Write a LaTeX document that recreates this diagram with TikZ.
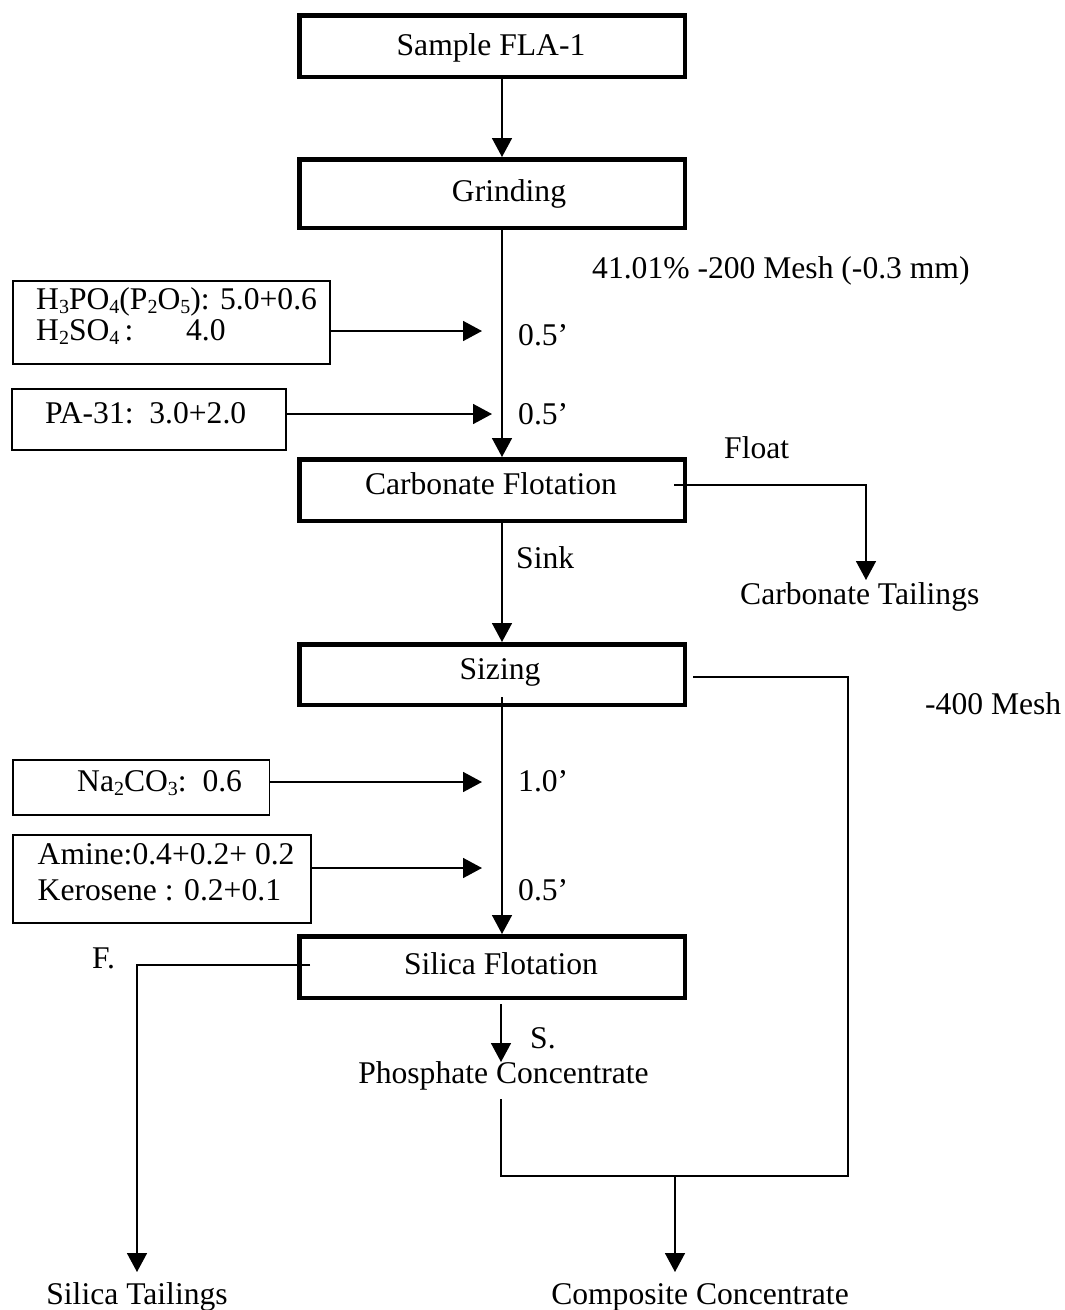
\documentclass[tikz,border=0pt]{standalone}
\usepackage{fontspec}
\setmainfont{Liberation Serif}
\usetikzlibrary{arrows.meta}
% chemical-formula index, slightly lowered
\newcommand\chemsub[1]{\raisebox{-4pt}{\fontsize{20}{20}\selectfont#1}}
\begin{document}
\begin{tikzpicture}[x=1pt,y=-1pt,
  font=\fontsize{31.6}{31}\selectfont,
  stage/.style={draw, line width=4.5pt, inner sep=0pt,
    minimum width=385.5pt, minimum height=61.5pt},
  reagent/.style={draw, line width=1.5pt, inner sep=0pt, anchor=north west},
  txt/.style={inner sep=0pt, text height=22pt, text depth=7pt, yshift=-3.5pt},
  ltxt/.style={txt, anchor=west},
  flow/.style={line width=1.6pt, -{Triangle[width=20pt,length=19pt]}},
  link/.style={line width=1.6pt}]

% page
\fill[white] (0,0) rectangle (1065,1310);
\useasboundingbox (0,0) rectangle (1065,1310);

% main feed line
\coordinate (axis) at (502,0);

% process stages
\node[stage] (sample) at (492,46) {};
\node[stage, minimum height=68.5pt] (grind) at (492,193.5) {};
\node[stage] (carb) at (492,490) {};
\node[stage, minimum height=60.5pt] (size) at (492,674.5) {};
\node[stage] (silica) at (492,967) {};

\node[txt] (sampletxt) at (491,44) {Sample FLA-1};
\node[txt] (grindtxt) at (509,190) {Grinding};
\node[txt] (carbtxt) at (491,483) {Carbonate Flotation};
\node[txt] (sizetxt) at (500,668) {Sizing};
\node[txt] (silicatxt) at (501,963) {Silica Flotation};

% reagent boxes
\node[reagent, minimum width=317pt, minimum height=83pt] (r1) at (12,280) {};
\node[reagent, minimum width=274pt, minimum height=61pt] (r2) at (11,388) {};
\node[reagent, minimum width=256.5pt, minimum height=55pt] (r3) at (12,759) {};
\node[reagent, minimum width=298pt, minimum height=88pt] (r4) at (12,834) {};

\node[ltxt] (r1a) at (36,298) {H\chemsub{3}PO\chemsub{4}(P\chemsub{2}O\chemsub{5}): 5.0+0.6};
\node[ltxt] (r1b) at (36,329) {\makebox[150pt][l]{H\chemsub{2}SO\chemsub{4}\,:}4.0};
\node[ltxt] (r2a) at (45,412) {PA-31:\ \ 3.0+2.0};
\node[ltxt] (r3a) at (77,780) {Na\chemsub{2}CO\chemsub{3}:\ \ 0.6};
\node[ltxt] (r4a) at (37.5,853) {Amine:0.4+0.2+ 0.2};
\node[ltxt] (r4b) at (37.5,889) {Kerosene : 0.2+0.1};

% conditioning times and stream labels
\node[ltxt] (mesh) at (592,267) {41.01\% -200 Mesh (-0.3 mm)};
\node[ltxt] (t1) at (518,334) {0.5’};
\node[ltxt] (t2) at (518,413) {0.5’};
\node[ltxt] (float) at (724,447) {Float};
\node[ltxt] (sink) at (516,557) {Sink};
\node[ltxt] (ctail) at (740,593) {Carbonate Tailings};
\node[ltxt] (fines) at (925,703) {-400 Mesh};
\node[ltxt] (t3) at (518,780) {1.0’};
\node[ltxt] (t4) at (518,889) {0.5’};
\node[ltxt] (flab) at (92,957) {F.};
\node[ltxt] (slab) at (530,1037) {S.};
\node[txt] (pconc) at (503.5,1072) {Phosphate Concentrate};
\node[txt] (stail) at (137,1293) {Silica Tailings};
\node[txt] (cconc) at (700,1293) {Composite Concentrate};

% connector ends
\coordinate (in1) at (482,331);
\coordinate (in2) at (492,414);
\coordinate (in3) at (482,782);
\coordinate (in4) at (482,868);
\coordinate (floatout) at (674,485);
\coordinate (ctailtop) at (866,580);
\coordinate (sizeout) at (502,697);
\coordinate (finesout) at (693,677);
\coordinate (joinR) at (848,1176);
\coordinate (joinM) at (675,1176);
\coordinate (pconcout) at (501,1099);
\coordinate (cconctop) at (675,1272);
\coordinate (fout) at (310,965);
\coordinate (stailtop) at (137,1272);
\coordinate (sout) at (501,1004);
\coordinate (pconctop) at (501,1062);

% flow connectors
\draw[flow] (axis |- sample.south) -- (axis |- grind.north);
\draw[flow] (axis |- grind.south) -- (axis |- carb.north);
\draw[flow] (r1.east |- in1) -- (in1);
\draw[flow] (r2.east |- in2) -- (in2);
\draw[flow] (floatout) -| (ctailtop);
\draw[flow] (axis |- carb.south) -- (axis |- size.north);
\draw[flow] (sizeout) -- (axis |- silica.north);
\draw[flow] (r3.east |- in3) -- (in3);
\draw[flow] (r4.east |- in4) -- (in4);
\draw[flow] (fout) -| (stailtop);
\draw[flow] (sout) -- (pconctop);
\draw[link] (finesout) -| (joinR) -| (pconcout);
\draw[flow] (joinM) -- (cconctop);
\end{tikzpicture}
\end{document}
